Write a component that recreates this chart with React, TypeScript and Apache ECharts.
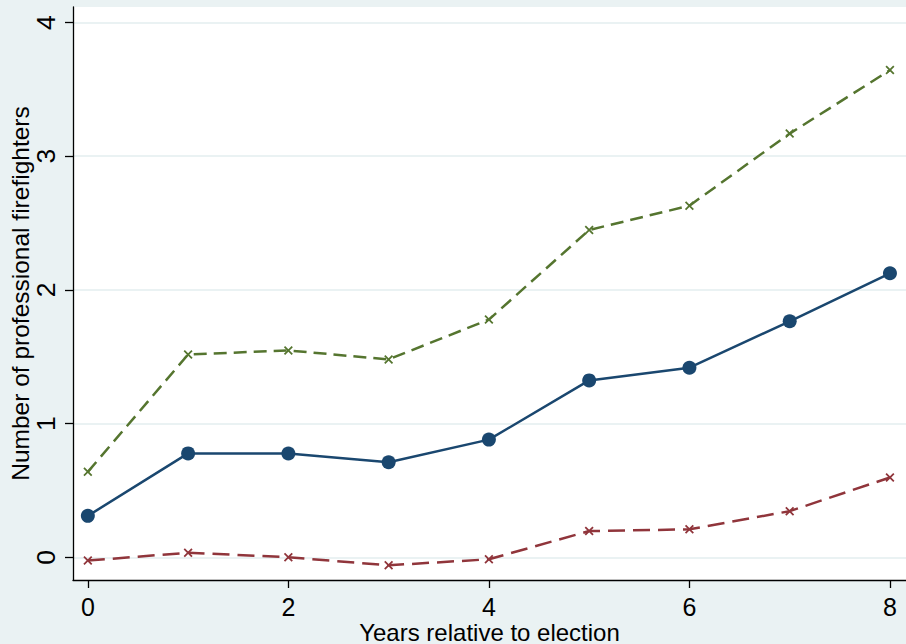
import React, { useEffect, useRef } from "react";
import * as echarts from "echarts";

const years = [0, 1, 2, 3, 4, 5, 6, 7, 8];
const estimate = [0.31, 0.777, 0.776, 0.711, 0.88, 1.323, 1.418, 1.765, 2.124];
const upper = [0.639, 1.517, 1.547, 1.48, 1.778, 2.448, 2.63, 3.169, 3.644];
const lower = [-0.025, 0.034, 0.0, -0.06, -0.015, 0.196, 0.209, 0.345, 0.597];
const xTicks = [0, 2, 4, 6, 8];
const yTicks = [0, 1, 2, 3, 4];

const xSymbol =
  "path://M0,1.4 L1.4,0 L5,3.6 L8.6,0 L10,1.4 L6.4,5 L10,8.6 L8.6,10 L5,6.4 L1.4,10 L0,8.6 L3.6,5 Z";

export default function App() {
  const ref = useRef<HTMLDivElement>(null);
  useEffect(() => {
    if (!ref.current) return;
    const chart = echarts.init(ref.current, undefined, { renderer: "svg" });
    const font = "'Liberation Sans', Arial, Helvetica, sans-serif";
    const pair = (arr: number[]) => years.map((x, i) => [x, arr[i]]);
    chart.setOption({
      animation: false,
      backgroundColor: "#eaf2f3",
      grid: {
        left: 73,
        top: 7,
        right: 0,
        bottom: 64,
        containLabel: false,
        outerBoundsMode: "none",
        show: true,
        backgroundColor: "#ffffff",
        borderWidth: 0,
      },
      xAxis: {
        type: "value",
        min: -0.148,
        max: 8.16,
        name: "Years relative to election",
        nameLocation: "middle",
        nameGap: 41,
        nameMoveOverlap: false,
        nameTextStyle: { fontFamily: font, fontSize: 24, lineHeight: 22, color: "#000" },
        axisLine: { show: true, onZero: false, lineStyle: { color: "#000", width: 1.3 } },
        axisTick: { show: true, length: 8, customValues: xTicks, lineStyle: { color: "#000", width: 1.3 } },
        axisLabel: { customValues: xTicks, fontFamily: font, fontSize: 25, lineHeight: 21, color: "#000", margin: 16 },
        splitLine: { show: false },
      },
      yAxis: {
        type: "value",
        min: -0.17,
        max: 4.116,
        name: "Number of professional firefighters",
        nameLocation: "middle",
        nameRotate: 90,
        nameGap: 40,
        nameMoveOverlap: false,
        nameTextStyle: { fontFamily: font, fontSize: 24.5, color: "#000" },
        axisLine: { show: true, onZero: false, lineStyle: { color: "#000", width: 1.3 } },
        axisTick: { show: true, length: 8, customValues: yTicks, lineStyle: { color: "#000", width: 1.3 } },
        axisLabel: { customValues: yTicks, rotate: 90, fontFamily: font, fontSize: 26.5, color: "#000", margin: 14 },
        splitLine: { show: true, lineStyle: { color: "#eaf2f3", width: 2 } },
      },
      series: [
        {
          type: "line",
          data: pair(upper),
          symbol: xSymbol,
          symbolSize: 9,
          itemStyle: { color: "#55752f" },
          lineStyle: { color: "#55752f", width: 2.5, type: [13, 7] },
        },
        {
          type: "line",
          data: pair(lower),
          symbol: xSymbol,
          symbolSize: 9,
          itemStyle: { color: "#90353b" },
          lineStyle: { color: "#90353b", width: 2.5, type: [17, 8] },
        },
        {
          type: "line",
          data: pair(estimate),
          symbol: "circle",
          symbolSize: 14,
          itemStyle: { color: "#1a476f" },
          lineStyle: { color: "#1a476f", width: 2.5 },
        },
      ],
    });
    return () => chart.dispose();
  }, []);
  return (
    <div
      ref={ref}
      style={{ position: "fixed", left: 0, top: 0, width: 906, height: 644 }}
    />
  );
}
